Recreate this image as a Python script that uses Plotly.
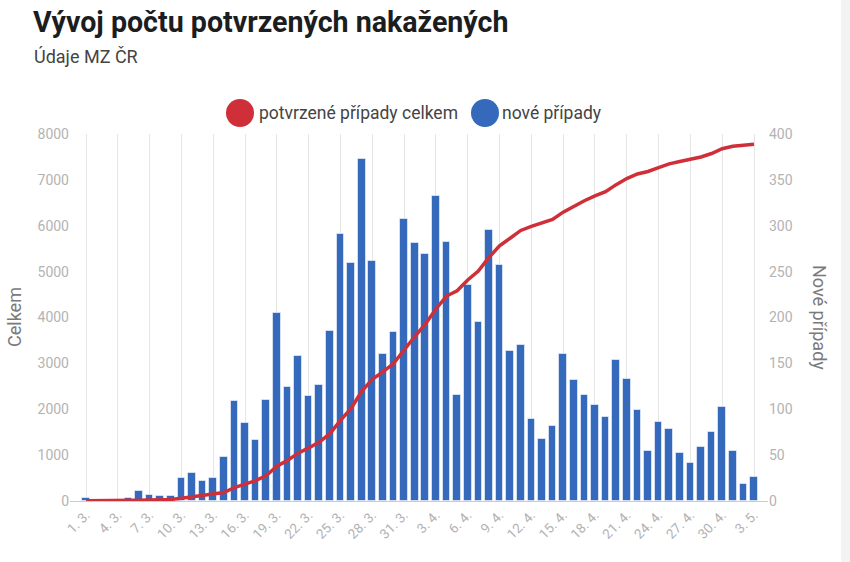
import plotly.graph_objects as go

# ---- data ----
dates = ([f"{d}. 3." for d in range(1, 32)]
         + [f"{d}. 4." for d in range(1, 31)]
         + [f"{d}. 5." for d in range(1, 4)])

new_cases = [
    3, 0, 0, 0, 3, 11, 7, 5, 5, 25, 31, 22, 25, 48, 109, 85, 67, 110, 205, 124,
    158, 114, 126, 185, 291, 259, 373, 262, 160, 184, 307,
    281, 269, 332, 282, 115, 235, 195, 295, 257, 163, 170, 89, 68, 82, 160,
    132, 116, 105, 92, 154, 133, 99, 55, 86, 79, 52, 41, 59, 75, 103,
    55, 18, 26,
]

total_cases = [
    3, 3, 3, 3, 6, 17, 24, 29, 34, 59, 90, 112, 137, 185, 294, 379, 446, 556,
    761, 885, 1043, 1157, 1283, 1468, 1759, 2018, 2391, 2653, 2813, 2997, 3304,
    3585, 3854, 4186, 4468, 4583, 4818, 5013, 5308, 5565, 5728, 5898, 5987,
    6055, 6137, 6297, 6429, 6545, 6650, 6742, 6896, 7029, 7128, 7183, 7269,
    7348, 7400, 7441, 7500, 7575, 7678,
    7733, 7751, 7777,
]

tick_labels = dates[::3]
left_ticks = list(range(0, 8001, 1000))
right_ticks = list(range(0, 401, 50))

title_text = "Vývoj počtu potvrzených nakažených"
subtitle_text = "Údaje MZ ČR"
name_total = "potvrzené případy celkem"
name_new = "nové případy"
left_title = "Celkem"
right_title = "Nové případy"

# ---- styling ----
BLUE = "#3469bb"
RED = "#cf2f39"
TICK_COLOR = "#b3b3b3"
W, H = 850, 562
L, R, T, B = 70, 82, 134, 61
PW = W - L - R
PH = H - T - B


def px(x):
    return (x - L) / PW


def py(y):
    return (H - B - y) / PH


FONT = "Roboto, sans-serif"
TICK_FONT = dict(family=FONT, size=14, color=TICK_COLOR)

fig = go.Figure()
fig.add_trace(go.Bar(
    x=dates, y=new_cases, yaxis="y", name=name_new, showlegend=False,
    width=0.72,
    marker=dict(color=BLUE, line=dict(color="rgba(255,255,255,0.55)", width=1)),
))
fig.add_trace(go.Scatter(
    x=dates, y=total_cases, yaxis="y2", name=name_total, showlegend=False,
    mode="lines", line=dict(color=RED, width=3.5),
))

fig.update_layout(
    width=W, height=H,
    margin=dict(l=L, r=R, t=T, b=B),
    paper_bgcolor="white", plot_bgcolor="white",
    bargap=0,
    xaxis=dict(
        type="category", range=[-1.51, 64.32],
        tickmode="array", tickvals=tick_labels, ticktext=tick_labels,
        tickangle=-45, tickfont=dict(family=FONT, size=13.5, color=TICK_COLOR), ticks="",
        showgrid=True, gridcolor="#e6e6e6", gridwidth=1,
        showline=True, linecolor="#cccccc", linewidth=1,
        zeroline=False, automargin=False,
    ),
    yaxis=dict(
        side="right", range=[0, 400], tickvals=right_ticks,
        tickfont=TICK_FONT, showgrid=False, zeroline=False, ticks="",
        showline=False, automargin=False,
    ),
    yaxis2=dict(
        overlaying="y", side="left", range=[0, 8000], tickvals=left_ticks,
        tickfont=TICK_FONT, showgrid=False, zeroline=False, ticks="",
        showline=False, automargin=False,
    ),
    font=dict(family=FONT),
)

annotations = [
    dict(text=f"<b>{title_text}</b>", x=px(31), y=py(22), xanchor="left", yanchor="middle",
         font=dict(size=28.6, color="#1b1d21", family=FONT)),
    dict(text=subtitle_text, x=px(32), y=py(57), xanchor="left", yanchor="middle",
         font=dict(size=18, color="#444444", family=FONT)),
    dict(text=name_total, x=px(257), y=py(113), xanchor="left", yanchor="middle",
         font=dict(size=17.5, color="#444444", family=FONT)),
    dict(text=name_new, x=px(500), y=py(113), xanchor="left", yanchor="middle",
         font=dict(size=17.5, color="#444444", family=FONT)),
    dict(text=left_title, x=px(14), y=py(317), xanchor="center", yanchor="middle",
         textangle=-90, font=dict(size=18, color="#7a7a7a", family=FONT)),
    dict(text=right_title, x=px(820), y=py(317), xanchor="center", yanchor="middle",
         textangle=90, font=dict(size=18, color="#7a7a7a", family=FONT)),
]
for a in annotations:
    a.update(xref="paper", yref="paper", showarrow=False)
fig.update_layout(annotations=annotations)

shapes = [
    dict(type="circle", xref="paper", yref="paper", xsizemode="pixel", ysizemode="pixel",
         xanchor=px(240), yanchor=py(113), x0=-14, x1=14, y0=-14, y1=14,
         fillcolor=RED, line=dict(width=0)),
    dict(type="circle", xref="paper", yref="paper", xsizemode="pixel", ysizemode="pixel",
         xanchor=px(485), yanchor=py(113), x0=-14, x1=14, y0=-14, y1=14,
         fillcolor=BLUE, line=dict(width=0)),
    dict(type="rect", xref="paper", yref="paper", x0=px(841), x1=px(852),
         y0=py(565), y1=py(-3), fillcolor="#f3f3f3", line=dict(width=0), layer="below"),
]
fig.update_layout(shapes=shapes)

fig.write_html("out.html",
               config={"displayModeBar": False},
               post_script="document.body.style.margin='0';document.body.style.overflow='hidden';")
